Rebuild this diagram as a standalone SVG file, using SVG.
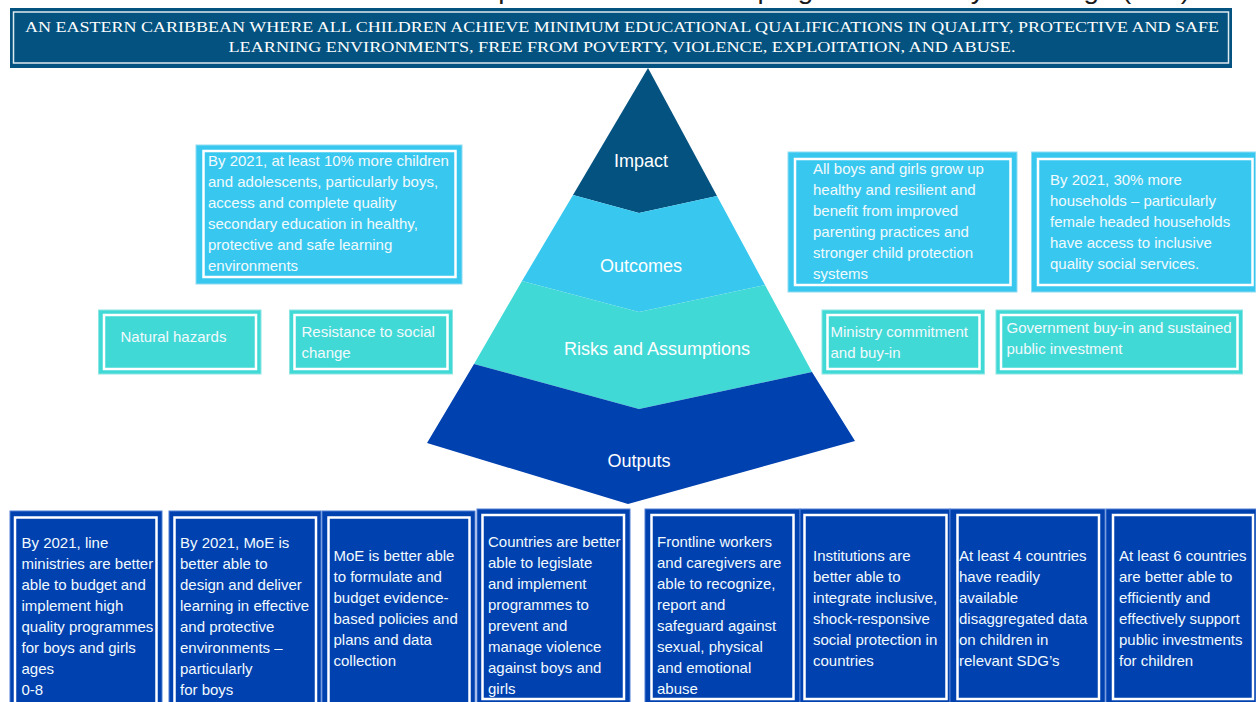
<svg xmlns="http://www.w3.org/2000/svg" width="1256" height="702" viewBox="0 0 1256 702">
  <style>
    .t { font-family: "Liberation Sans", Arial, sans-serif; font-size: 15px; fill: #f2fafd; }
    .lvl { font-family: "Liberation Sans", Arial, sans-serif; font-size: 18px; fill: #ffffff; text-anchor: middle; }
    .ban { font-family: "Liberation Serif", "DejaVu Serif", serif; font-size: 15px; fill: #ffffff; text-anchor: middle; }
    .cap { font-family: "Liberation Sans", Arial, sans-serif; font-size: 26px; fill: #1a1a1a; }
    .inner { fill: none; stroke: #ffffff; stroke-width: 2.5; }
    .oc { fill: #38c8ef; stroke: #8fdcf3; stroke-width: 1; }
    .rk { fill: #41d9d6; stroke: #8ce6e4; stroke-width: 1; }
    .op { fill: #0041b0; stroke: #4f7fd3; stroke-width: 1; }
  </style>

  <rect width="1256" height="702" fill="#ffffff"/>

  <!-- heading line, cut by the top edge -->
  <text class="cap" x="424" y="-1" textLength="766" lengthAdjust="spacingAndGlyphs">conceptual framework and programme theory of change (ToC)</text>

  <!-- vision banner -->
  <g id="vision">
    <rect x="10" y="8" width="1222" height="60" fill="#03527f"/>
    <rect x="13.5" y="12" width="1215" height="51" fill="none" stroke="#dfe9f0" stroke-width="1.5"/>
    <text class="ban" x="622" y="32" textLength="1194" lengthAdjust="spacingAndGlyphs">AN EASTERN CARIBBEAN WHERE ALL CHILDREN ACHIEVE MINIMUM EDUCATIONAL QUALIFICATIONS IN QUALITY, PROTECTIVE AND SAFE</text>
    <text class="ban" x="622" y="52" textLength="787" lengthAdjust="spacingAndGlyphs">LEARNING ENVIRONMENTS, FREE FROM POVERTY, VIOLENCE, EXPLOITATION, AND ABUSE.</text>
  </g>

  <!-- pyramid levels -->
  <g id="level-impact">
    <path d="M648,68 L717,196 L639,213 L573,195 Z" fill="#03527f"/>
    <text class="lvl" x="641" y="167">Impact</text>
  </g>
  <g id="level-outcomes">
    <path d="M573,195 L639,213 L717,196 L765,285 L639,312 L522,281 Z" fill="#38c8ef"/>
    <text class="lvl" x="641" y="272">Outcomes</text>
  </g>
  <g id="level-risks">
    <path d="M522,281 L639,312 L765,285 L812,372 L639,409 L474,364 Z" fill="#41d9d6"/>
    <text class="lvl" x="657" y="355">Risks and Assumptions</text>
  </g>
  <g id="level-outputs">
    <path d="M474,364 L639,409 L812,372 L855,441 L628,504 L427,443 Z" fill="#0041b0"/>
    <text class="lvl" x="639" y="467">Outputs</text>
  </g>

  <!-- outcomes -->
  <g id="outcome-education">
    <rect class="oc" x="196" y="145" width="266" height="139"/>
    <rect class="inner" x="203.5" y="151" width="252" height="126"/>
    <text class="t">
      <tspan x="208" y="166">By 2021, at least 10% more children</tspan>
      <tspan x="208" dy="21">and adolescents, particularly boys,</tspan>
      <tspan x="208" dy="21">access and complete quality</tspan>
      <tspan x="208" dy="21">secondary education in healthy,</tspan>
      <tspan x="208" dy="21">protective and safe learning</tspan>
      <tspan x="208" dy="21">environments</tspan>
    </text>
  </g>
  <g id="outcome-protection">
    <rect class="oc" x="788" y="152" width="229" height="140"/>
    <rect class="inner" x="795" y="159" width="215.5" height="126"/>
    <text class="t">
      <tspan x="813" y="174">All boys and girls grow up</tspan>
      <tspan x="813" dy="21">healthy and resilient and</tspan>
      <tspan x="813" dy="21">benefit from improved</tspan>
      <tspan x="813" dy="21">parenting practices and</tspan>
      <tspan x="813" dy="21">stronger child protection</tspan>
      <tspan x="813" dy="21">systems</tspan>
    </text>
  </g>
  <g id="outcome-social">
    <rect class="oc" x="1031.5" y="152" width="224" height="140"/>
    <rect class="inner" x="1038" y="159" width="214.5" height="126"/>
    <text class="t">
      <tspan x="1050" y="185">By 2021, 30% more</tspan>
      <tspan x="1050" dy="21">households – particularly</tspan>
      <tspan x="1050" dy="21">female headed households</tspan>
      <tspan x="1050" dy="21">have access to inclusive</tspan>
      <tspan x="1050" dy="21">quality social services.</tspan>
    </text>
  </g>

  <!-- risks and assumptions -->
  <g id="risk-hazards">
    <rect class="rk" x="98.5" y="310" width="162.5" height="64"/>
    <rect class="inner" x="104" y="315" width="152" height="54"/>
    <text class="t" x="120.5" y="342">Natural hazards</text>
  </g>
  <g id="risk-resistance">
    <rect class="rk" x="289.5" y="310" width="163" height="64"/>
    <rect class="inner" x="294.5" y="315" width="153" height="54"/>
    <text class="t">
      <tspan x="301.5" y="337">Resistance to social</tspan>
      <tspan x="301.5" dy="21">change</tspan>
    </text>
  </g>
  <g id="assumption-ministry">
    <rect class="rk" x="822" y="310" width="162.5" height="64"/>
    <rect class="inner" x="827.5" y="315" width="152" height="54"/>
    <text class="t">
      <tspan x="830.5" y="337">Ministry commitment</tspan>
      <tspan x="830.5" dy="21">and buy-in</tspan>
    </text>
  </g>
  <g id="assumption-government">
    <rect class="rk" x="996" y="310" width="246.5" height="64"/>
    <rect class="inner" x="1001" y="315" width="236.5" height="54"/>
    <text class="t">
      <tspan x="1006.5" y="332.5">Government buy-in and sustained</tspan>
      <tspan x="1006.5" dy="21">public investment</tspan>
    </text>
  </g>

  <!-- outputs -->
  <g id="output-1">
    <rect class="op" x="10" y="511" width="152" height="200"/>
    <rect class="inner" x="15" y="517.5" width="141.5" height="200"/>
    <text class="t">
      <tspan x="21.5" y="548">By 2021, line</tspan>
      <tspan x="21.5" dy="21">ministries are better</tspan>
      <tspan x="21.5" dy="21">able to budget and</tspan>
      <tspan x="21.5" dy="21">implement high</tspan>
      <tspan x="21.5" dy="21">quality programmes</tspan>
      <tspan x="21.5" dy="21">for boys and girls</tspan>
      <tspan x="21.5" dy="21">ages</tspan>
      <tspan x="21.5" dy="21">0-8</tspan>
    </text>
  </g>
  <g id="output-2">
    <rect class="op" x="169" y="511" width="152" height="200"/>
    <rect class="inner" x="174.5" y="517.5" width="141.5" height="200"/>
    <text class="t">
      <tspan x="180" y="548">By 2021, MoE is</tspan>
      <tspan x="180" dy="21">better able to</tspan>
      <tspan x="180" dy="21">design and deliver</tspan>
      <tspan x="180" dy="21">learning in effective</tspan>
      <tspan x="180" dy="21">and protective</tspan>
      <tspan x="180" dy="21">environments –</tspan>
      <tspan x="180" dy="21">particularly</tspan>
      <tspan x="180" dy="21">for boys</tspan>
    </text>
  </g>
  <g id="output-3">
    <rect class="op" x="322" y="511" width="153" height="200"/>
    <rect class="inner" x="328.5" y="517.5" width="141" height="200"/>
    <text class="t">
      <tspan x="333.5" y="561">MoE is better able</tspan>
      <tspan x="333.5" dy="21">to formulate and</tspan>
      <tspan x="333.5" dy="21">budget evidence-</tspan>
      <tspan x="333.5" dy="21">based policies and</tspan>
      <tspan x="333.5" dy="21">plans and data</tspan>
      <tspan x="333.5" dy="21">collection</tspan>
    </text>
  </g>
  <g id="output-4">
    <rect class="op" x="477" y="509" width="153" height="200"/>
    <rect class="inner" x="482.5" y="515" width="141.5" height="184"/>
    <text class="t">
      <tspan x="488" y="547">Countries are better</tspan>
      <tspan x="488" dy="21">able to legislate</tspan>
      <tspan x="488" dy="21">and implement</tspan>
      <tspan x="488" dy="21">programmes to</tspan>
      <tspan x="488" dy="21">prevent and</tspan>
      <tspan x="488" dy="21">manage violence</tspan>
      <tspan x="488" dy="21">against boys and</tspan>
      <tspan x="488" dy="21">girls</tspan>
    </text>
  </g>
  <g id="output-5">
    <rect class="op" x="645" y="509" width="155" height="200"/>
    <rect class="inner" x="651.5" y="515" width="142" height="184"/>
    <text class="t">
      <tspan x="657" y="547">Frontline workers</tspan>
      <tspan x="657" dy="21">and caregivers are</tspan>
      <tspan x="657" dy="21">able to recognize,</tspan>
      <tspan x="657" dy="21">report and</tspan>
      <tspan x="657" dy="21">safeguard against</tspan>
      <tspan x="657" dy="21">sexual, physical</tspan>
      <tspan x="657" dy="21">and emotional</tspan>
      <tspan x="657" dy="21">abuse</tspan>
    </text>
  </g>
  <g id="output-6">
    <rect class="op" x="800" y="509" width="150" height="200"/>
    <rect class="inner" x="804.5" y="515" width="142" height="184"/>
    <text class="t">
      <tspan x="813" y="561">Institutions are</tspan>
      <tspan x="813" dy="21">better able to</tspan>
      <tspan x="813" dy="21">integrate inclusive,</tspan>
      <tspan x="813" dy="21">shock-responsive</tspan>
      <tspan x="813" dy="21">social protection in</tspan>
      <tspan x="813" dy="21">countries</tspan>
    </text>
  </g>
  <g id="output-7">
    <rect class="op" x="950" y="509" width="155" height="200"/>
    <rect class="inner" x="957.5" y="515" width="141.5" height="184"/>
    <text class="t">
      <tspan x="959" y="561">At least 4 countries</tspan>
      <tspan x="959" dy="21">have readily</tspan>
      <tspan x="959" dy="21">available</tspan>
      <tspan x="959" dy="21">disaggregated data</tspan>
      <tspan x="959" dy="21">on children in</tspan>
      <tspan x="959" dy="21">relevant SDG’s</tspan>
    </text>
  </g>
  <g id="output-8">
    <rect class="op" x="1106" y="509" width="150" height="200"/>
    <rect class="inner" x="1113" y="515" width="140" height="184"/>
    <text class="t">
      <tspan x="1119" y="561">At least 6 countries</tspan>
      <tspan x="1119" dy="21">are better able to</tspan>
      <tspan x="1119" dy="21">efficiently and</tspan>
      <tspan x="1119" dy="21">effectively support</tspan>
      <tspan x="1119" dy="21">public investments</tspan>
      <tspan x="1119" dy="21">for children</tspan>
    </text>
  </g>

  <!-- the pyramid stacks its levels directly; no connector lines are drawn -->
  <g id="connectors"/>
</svg>
